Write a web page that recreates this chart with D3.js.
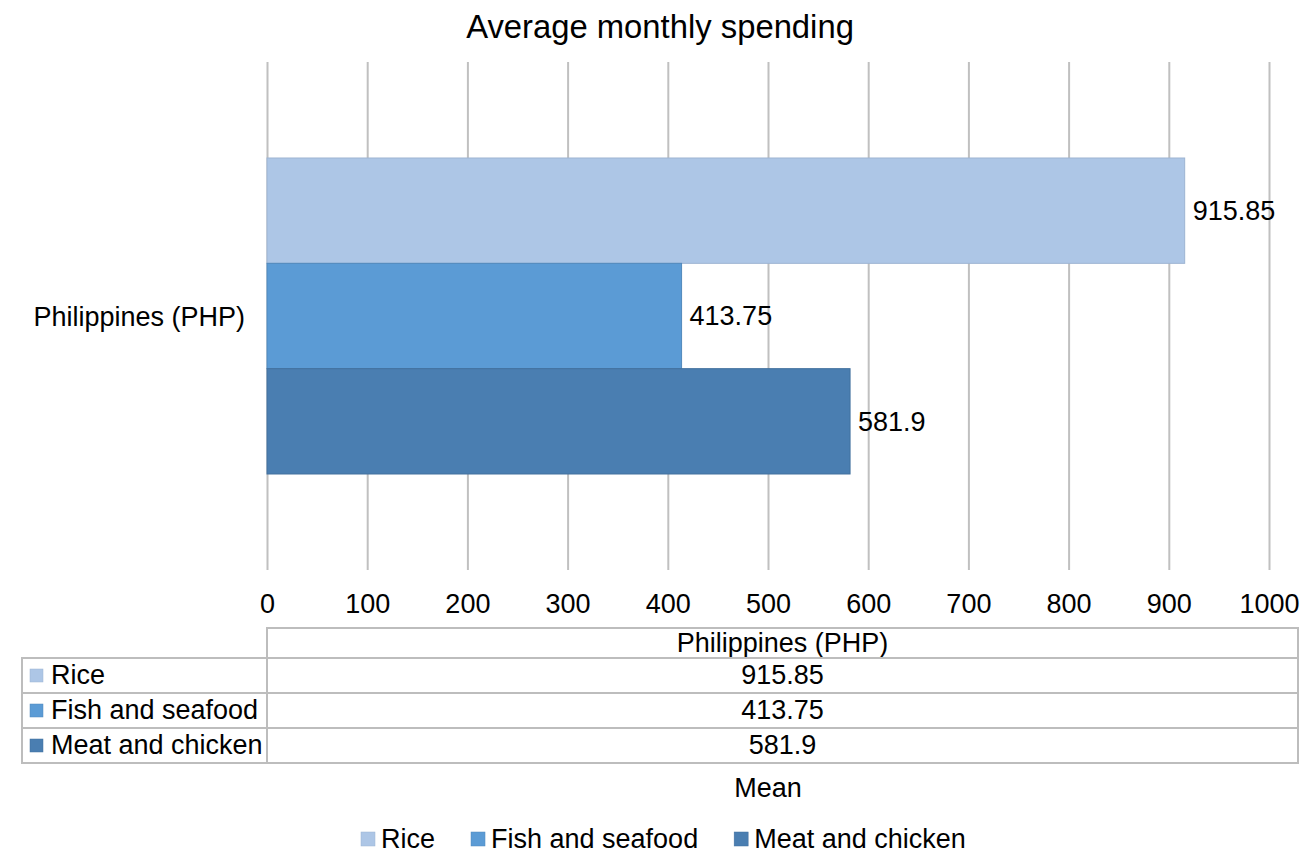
<!DOCTYPE html>
<html>
<head>
<meta charset="utf-8">
<script src="https://cdn.jsdelivr.net/npm/d3@7"></script>
<style>
  body { margin: 0; background: #fff; }
  svg { display: block; font-family: "Liberation Sans", Arial, sans-serif; }
</style>
</head>
<body>
<svg id="chart" width="1313" height="854"></svg>
<script>
const title = "Average monthly spending";
const categories = ["Philippines (PHP)"];
const seriesNames = ["Rice", "Fish and seafood", "Meat and chicken"];
const seriesValues = [915.85, 413.75, 581.9];
const seriesLabels = ["915.85", "413.75", "581.9"];
const tickValues = [0, 100, 200, 300, 400, 500, 600, 700, 800, 900, 1000];
const colors = ["#adc6e6", "#5b9bd5", "#4a7eb1"];
const strokes = ["#9db4d2", "#5189bd", "#42709e"];
const xAxisTitle = "Mean";

const svg = d3.select("#chart");
const FS = 27;
const gridColor = "#c0c0c0";

const x = d3.scaleLinear().domain([0, 1000]).range([267, 1269]);
const yCat = d3.scaleBand().domain(categories).range([62, 570]).paddingInner(0).paddingOuter(0.3038);
const ySer = d3.scaleBand().domain(seriesNames).range([0, yCat.bandwidth()]).padding(0);

// title
svg.append("text").attr("x", 660).attr("y", 38).attr("text-anchor", "middle")
  .attr("font-size", 32.8).attr("fill", "#000").text(title);

// gridlines + ticks
const xAxis = d3.axisBottom(x).tickValues(tickValues).tickSize(-(570 - 62)).tickFormat(d3.format("d"));
const gx = svg.append("g").attr("transform", "translate(0,570)").call(xAxis);
gx.select(".domain").remove();
gx.selectAll(".tick line").attr("stroke", gridColor).attr("stroke-width", 2);
gx.selectAll(".tick text").attr("font-size", FS).attr("fill", "#000")
  .attr("y", 0).attr("dy", 0).attr("transform", "translate(0,43)")
  .style("font-family", "'Liberation Sans', Arial, sans-serif");

// bars
const data = seriesNames.map((s, i) => ({ s, v: seriesValues[i], label: seriesLabels[i], i }));
const cat = categories[0];
const gBars = svg.append("g").attr("transform", `translate(0,${yCat(cat)})`);
gBars.selectAll("rect").data(data).join("rect")
  .attr("x", x(0))
  .attr("y", d => ySer(d.s))
  .attr("width", d => x(d.v) - x(0))
  .attr("height", ySer.bandwidth())
  .attr("fill", d => colors[d.i])
  .attr("stroke", d => strokes[d.i])
  .attr("stroke-width", 1);

gBars.selectAll("text").data(data).join("text")
  .attr("x", d => x(d.v) + 8)
  .attr("y", d => ySer(d.s) + ySer.bandwidth() / 2)
  .attr("dy", "0.35em")
  .attr("font-size", FS).attr("fill", "#000")
  .text(d => d.label);

// category label
svg.append("text").attr("x", 245).attr("y", yCat(cat) + yCat.bandwidth() / 2 + 1)
  .attr("dy", "0.35em").attr("text-anchor", "end")
  .attr("font-size", FS).attr("fill", "#000").text(cat);

// data table
const tbl = svg.append("g");
const tL = 22, tM = 267, tR = 1298;
const rowTops = [658, 693, 728];
const rowH = 35;
const borderColor = "#bdbdbd";
tbl.append("rect").attr("x", tM).attr("y", 628).attr("width", tR - tM).attr("height", 30)
  .attr("fill", "none").attr("stroke", borderColor).attr("stroke-width", 2);
tbl.append("text").attr("x", (tM + tR) / 2).attr("y", 652).attr("text-anchor", "middle")
  .attr("font-size", FS).attr("fill", "#000").text(cat);
data.forEach((d, i) => {
  const top = rowTops[i];
  tbl.append("rect").attr("x", tL).attr("y", top).attr("width", tM - tL).attr("height", rowH)
    .attr("fill", "none").attr("stroke", borderColor).attr("stroke-width", 2);
  tbl.append("rect").attr("x", tM).attr("y", top).attr("width", tR - tM).attr("height", rowH)
    .attr("fill", "none").attr("stroke", borderColor).attr("stroke-width", 2);
  tbl.append("rect").attr("x", 30).attr("y", top + 11).attr("width", 13).attr("height", 13)
    .attr("fill", colors[i]).attr("stroke", strokes[i]).attr("stroke-width", 0.5);
  tbl.append("text").attr("x", 51).attr("y", top + 26)
    .attr("font-size", FS).attr("fill", "#000").text(d.s);
  tbl.append("text").attr("x", (tM + tR) / 2).attr("y", top + 26).attr("text-anchor", "middle")
    .attr("font-size", FS).attr("fill", "#000").text(d.label);
});

// axis title
svg.append("text").attr("x", 768).attr("y", 797).attr("text-anchor", "middle")
  .attr("font-size", FS).attr("fill", "#000").text(xAxisTitle);

// legend
const leg = svg.append("g");
let lx = 361;
data.forEach((d, i) => {
  leg.append("rect").attr("x", lx).attr("y", 832).attr("width", 14).attr("height", 14)
    .attr("fill", colors[i]).attr("stroke", strokes[i]).attr("stroke-width", 0.5);
  const t = leg.append("text").attr("x", lx + 20).attr("y", 848)
    .attr("font-size", FS).attr("fill", "#000").text(d.s);
  const w = t.node().getComputedTextLength();
  lx = lx + 20 + w + 36;
});
</script>
</body>
</html>
